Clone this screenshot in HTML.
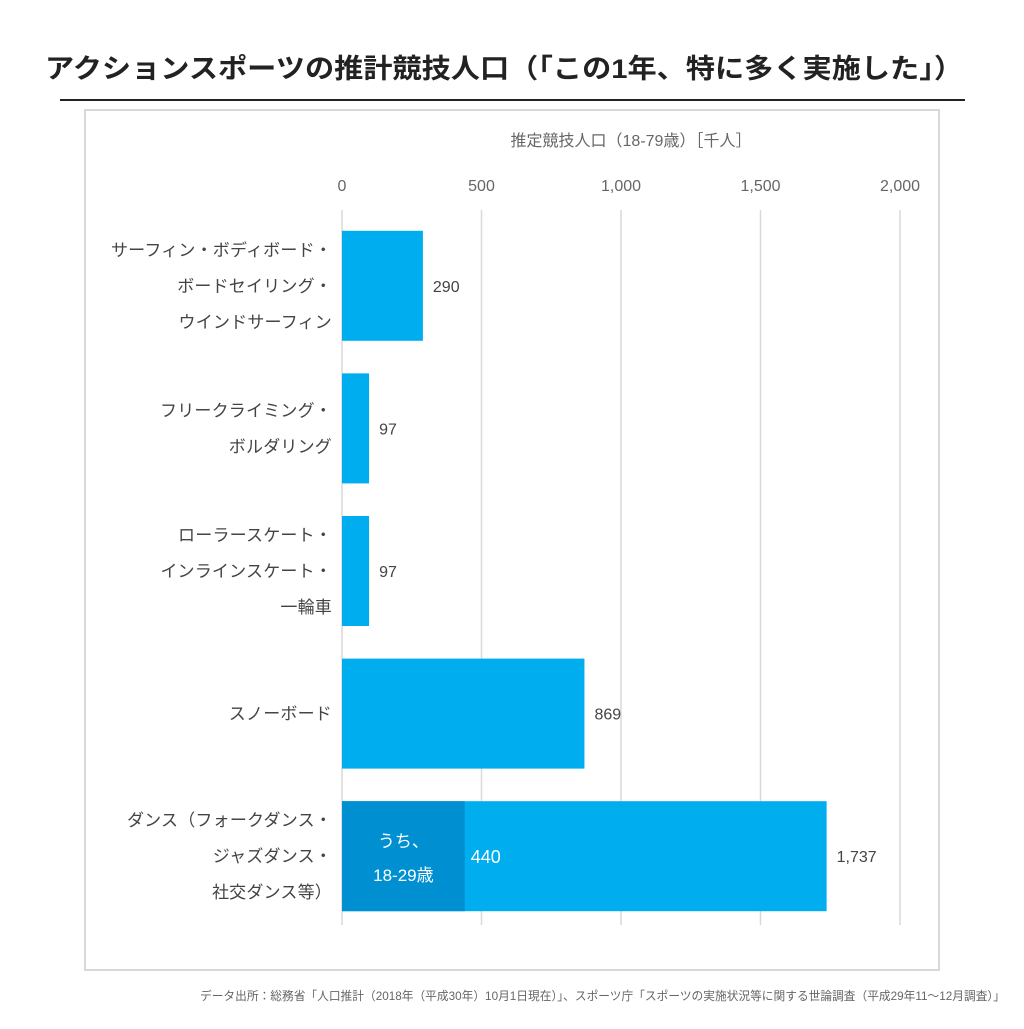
<!DOCTYPE html>
<html><head><meta charset="utf-8"><style>
body{margin:0;width:1024px;height:1024px;background:#fff;overflow:hidden;font-family:"Liberation Sans","Noto Sans CJK JP",sans-serif}
</style></head><body>
<svg id="c" width="1024" height="1024" xmlns="http://www.w3.org/2000/svg" font-family="Liberation Sans, Noto Sans CJK JP, sans-serif">
<text x="45" y="78" font-size="27" font-weight="bold" fill="#222" textLength="918" lengthAdjust="spacingAndGlyphs">アクションスポーツの推計競技人口（「この1年、特に多く実施した」）</text>
<line x1="60" y1="100" x2="965" y2="100" stroke="#222" stroke-width="2"/>
<rect x="85" y="110" width="854" height="860" fill="#fff" stroke="#ccc" stroke-width="1.5"/>
<text x="631" y="146" text-anchor="middle" font-size="16" fill="#666">推定競技人口（18-79歳）［千人］</text>
<g id="grid"></g><g id="bars"></g>
<text x="1005" y="1000" text-anchor="end" font-size="12" fill="#666" textLength="805" lengthAdjust="spacingAndGlyphs">データ出所：総務省「人口推計（2018年（平成30年）10月1日現在）」、スポーツ庁「スポーツの実施状況等に関する世論調査（平成29年11～12月調査）」</text>
</svg>
<script>
const categories=[["サーフィン・ボディボード・","ボードセイリング・","ウインドサーフィン"],["フリークライミング・","ボルダリング"],["ローラースケート・","インラインスケート・","一輪車"],["スノーボード"],["ダンス（フォークダンス・","ジャズダンス・","社交ダンス等）"]];
const values=[290,97,97,869,1737];
const subValues=[null,null,null,null,440];
const tickValues=[0,500,1000,1500,2000];
const tickLabels=["0","500","1,000","1,500","2,000"];
(function(){
const NS="http://www.w3.org/2000/svg";
const x0=342,x1=900,vmax=2000,plotTop=214.5,band=142.6,bh=110;
const xs=v=>x0+v/vmax*(x1-x0);
const yb=i=>plotTop+i*band+(band-bh)/2;
function mk(t,a,p){const e=document.createElementNS(NS,t);for(const k in a)e.setAttribute(k,a[k]);p.appendChild(e);return e;}
const g=document.getElementById('grid'),b=document.getElementById('bars');
tickValues.forEach((v,i)=>{
 const l=mk('line',{x1:xs(v),x2:xs(v),y1:210,y2:925,stroke:'#d9d9d9','stroke-width':1.5},g);
 
 
 const t=mk('text',{x:xs(v),y:191,'text-anchor':'middle','font-size':16,fill:'#666'},g);
 t.textContent=tickLabels[i];
 
 
});
values.forEach((v,i)=>{
 const y=yb(i);
 const r=mk('rect',{x:x0,y:y,width:xs(v)-x0,height:bh,fill:'#00aeef'},b);
 
 
 const t=mk('text',{x:xs(v)+10,y:y+bh/2+6,'font-size':16,fill:'#444'},b);
 t.textContent=v.toLocaleString('en-US');
 
 
 const lines=categories[i];
 lines.forEach((s,j)=>{
  const c=mk('text',{x:332,y:y+bh/2+6+(j-(lines.length-1)/2)*36,'text-anchor':'end','font-size':17,'letter-spacing':0.2,fill:'#444'},b);
  c.textContent=s;
  
  
 });
 if(subValues[i]!=null){
  const sv=subValues[i];
  const s=mk('rect',{x:x0,y:y,width:xs(sv)-x0,height:bh,fill:'#0090d2'},b);
  
  
  const cx=(x0+xs(sv))/2;
  const a=mk('text',{x:cx,y:y+bh/2-9,'text-anchor':'middle','font-size':17,fill:'#fff'},b);
  a.textContent='うち、';
  
  
  const a2=mk('text',{x:cx,y:y+bh/2+25,'text-anchor':'middle','font-size':17,fill:'#fff'},b);
  a2.textContent='18-29歳';
  
  
  const sv2=mk('text',{x:xs(sv)+6,y:y+bh/2+7,'font-size':18,fill:'#fff'},b);
  sv2.textContent=String(sv);
  
  
 }
});
})();
</script>
</body></html>
